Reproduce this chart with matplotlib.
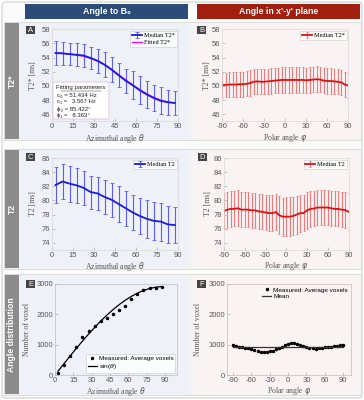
import matplotlib
matplotlib.use("Agg")
import matplotlib.pyplot as plt
from matplotlib.patches import Rectangle, FancyBboxPatch
from matplotlib.lines import Line2D

plt.rcParams["axes.unicode_minus"] = False

# ---------------- data ----------------
theta = [2.5, 7.5, 12.5, 17.5, 22.5, 27.5, 32.5, 37.5, 42.5, 47.5, 52.5, 57.5,
         62.5, 67.5, 72.5, 77.5, 82.5, 87.5]
phi = [-90, -85, -80, -75, -70, -65, -60, -55, -50, -45, -40, -35, -30, -25, -20,
       -15, -10, -5, 0, 5, 10, 15, 20, 25, 30, 35, 40, 45, 50, 55, 60, 65, 70, 75,
       80, 85, 90]

t2s_theta = [54.65, 54.6, 54.5, 54.4, 54.3, 53.95, 53.55, 53.0, 52.3, 51.5, 50.75,
             50.1, 49.4, 48.8, 48.3, 47.9, 47.7, 47.6]
t2s_theta_err = [1.65, 1.6, 1.6, 1.6, 1.6, 1.55, 1.7, 1.8, 1.75, 1.7, 1.7, 1.95,
                 2.0, 1.95, 1.8, 1.9, 1.8, 1.75]
t2s_fit = [54.65, 54.6, 54.5, 54.35, 54.2, 53.9, 53.5, 53.0, 52.35, 51.6, 50.85,
           50.15, 49.5, 48.9, 48.4, 48.0, 47.75, 47.6]

t2s_phi = [50.1, 50.15, 50.2, 50.2, 50.2, 50.25, 50.25, 50.3, 50.4, 50.6, 50.65,
           50.6, 50.6, 50.65, 50.7, 50.75, 50.8, 50.85, 50.85, 50.85, 50.85, 50.85,
           50.85, 50.85, 50.8, 50.85, 50.9, 50.95, 50.9, 50.75, 50.7, 50.7, 50.65,
           50.6, 50.5, 50.2, 50.05]
t2s_phi_err = [1.75, 1.75, 1.75, 1.75, 1.75, 1.75, 1.75, 1.75, 1.8, 1.8, 1.8, 1.8,
               1.8, 1.8, 1.8, 1.8, 1.8, 1.8, 1.8, 1.8, 1.8, 1.8, 1.8, 1.8, 1.8,
               1.8, 1.8, 1.8, 1.8, 1.8, 1.8, 1.8, 1.8, 1.8, 1.8, 1.8, 1.75]

t2_theta = [82.2, 82.7, 82.4, 82.15, 81.8, 81.2, 81.0, 80.5, 80.1, 79.5, 78.9,
            78.3, 77.8, 77.4, 77.1, 77.0, 76.6, 76.5]
t2_theta_err = [2.6, 2.55, 2.55, 2.45, 2.45, 2.35, 2.4, 2.45, 2.45, 2.5, 2.5, 2.55,
                2.6, 2.7, 2.7, 2.7, 2.65, 2.6]

t2_phi = [78.5, 78.7, 78.8, 78.8, 78.9, 78.7, 78.7, 78.7, 78.6, 78.6, 78.45, 78.4,
          78.3, 78.2, 78.2, 78.35, 77.9, 77.7, 77.7, 77.7, 77.8, 78.0, 78.2, 78.2,
          78.6, 78.8, 78.85, 79.0, 79.0, 79.0, 79.0, 78.9, 78.8, 78.8, 78.7, 78.65,
          78.4]
t2_phi_err = [2.55, 2.55, 2.55, 2.5, 2.55, 2.5, 2.5, 2.45, 2.45, 2.45, 2.5, 2.5,
              2.55, 2.55, 2.6, 2.6, 2.7, 2.7, 2.75, 2.75, 2.7, 2.7, 2.65, 2.6, 2.6,
              2.55, 2.5, 2.5, 2.5, 2.5, 2.5, 2.5, 2.5, 2.5, 2.5, 2.55, 2.6]

count_theta = [80, 330, 640, 935, 1250, 1450, 1630, 1780, 1890, 2000, 2130, 2280,
               2500, 2660, 2790, 2860, 2880, 2915]
sin_curve = [127, 381, 632, 878, 1117, 1348, 1569, 1778, 1973, 2153, 2317, 2463,
             2590, 2698, 2785, 2851, 2895, 2917]

count_phi = [990, 945, 935, 920, 900, 880, 845, 820, 790, 765, 745, 755, 780, 800,
             845, 890, 935, 1000, 1035, 1055, 1045, 1010, 980, 945, 920, 900, 890,
             865, 880, 900, 910, 920, 935, 955, 965, 980, 1000]
count_phi_mean = 910

theta_ticks = [0, 15, 30, 45, 60, 75, 90]
phi_ticks = [-90, -60, -30, 0, 30, 60, 90]
t2s_ticks = [46, 48, 50, 52, 54, 56, 58]
t2_ticks = [74, 76, 78, 80, 82, 84, 86]
count_ticks = [0, 1000, 2000, 3000]

# ---------------- layout ----------------
W, H = 364, 400
fig = plt.figure(figsize=(W / 100, H / 100), dpi=100)
fig.patch.set_facecolor("white")

SERIF = ["Liberation Serif", "DejaVu Serif"]
SANS = ["Liberation Sans", "DejaVu Sans"]


def fbox(x0, y0, x1, y1):
    return [x0 / W, 1 - y1 / H, (x1 - x0) / W, (y1 - y0) / H]


def frect(x0, y0, x1, y1, zorder=-10, **kw):
    r = Rectangle((x0 / W, 1 - y1 / H), (x1 - x0) / W, (y1 - y0) / H,
                  transform=fig.transFigure, zorder=zorder, **kw)
    fig.patches.append(r)
    return r


def ftext(x, y, s, **kw):
    return fig.text(x / W, 1 - y / H, s, **kw)


# outer frame
outer = FancyBboxPatch((2 / W, 2 / H), 360 / W, 396 / H,
                       boxstyle="round,pad=0,rounding_size=0.01",
                       transform=fig.transFigure, facecolor="#fbfbfb",
                       edgecolor="#d0d0d0", lw=0.8, zorder=-20)
fig.patches.append(outer)

rows = [(22, 140), (149, 269), (274, 395)]
row_labels = ["T2*", "T2", "Angle distribution"]
for (y0, y1), lab in zip(rows, row_labels):
    frect(4, y0, 361, y1, facecolor="#f3f3f3", edgecolor="#d8d8d8", lw=0.6)
    frect(5, y0 + 1, 19, y1 - 1, facecolor="#8b8b8b", edgecolor="none")
    frect(20, y0 + 1, 189, y1 - 1, facecolor="#eef1f7", edgecolor="none")
    frect(193, y0 + 1, 360, y1 - 1, facecolor="#f9f4f3", edgecolor="none")
    ftext(12, (y0 + y1) / 2, lab, rotation=90, ha="center", va="center",
          color="white", fontsize=6.2, fontweight="bold", family=SANS)

# headers
frect(25, 4, 188, 19, facecolor="#2d4b78", edgecolor="none")
frect(197, 4, 360, 19, facecolor="#a11f0e", edgecolor="none")
ftext(106.5, 11.5, "Angle to B\u2080", ha="center", va="center", color="white",
      fontsize=6.3, fontweight="bold", family=SANS)
ftext(278.5, 11.5, "Angle in x'-y' plane", ha="center", va="center",
      color="white", fontsize=6.3, fontweight="bold", family=SANS)

TICKC = "#555555"
SPINEC = "#d8d8d8"


def style_axes(ax, spinec=SPINEC):
    ax.set_facecolor("none")
    for s in ax.spines.values():
        s.set_color(spinec)
        s.set_linewidth(0.5)
    ax.tick_params(direction="in", length=2, width=0.4, color="#999999",
                   labelsize=5.5, labelcolor=TICKC, pad=1.5, top=False, right=False)
    for lab in ax.get_xticklabels() + ax.get_yticklabels():
        lab.set_family(SANS)


def letter(x, y, s):
    frect(x, y, x + 9, y + 8, zorder=5, facecolor="#444444", edgecolor="none")
    ftext(x + 4.5, y + 4.2, s, ha="center", va="center", color="white",
          fontsize=5.5, family=SANS, zorder=6)


def style_legend(lg, frame=True):
    if frame:
        lg.get_frame().set_edgecolor("#bbbbbb")
        lg.get_frame().set_linewidth(0.4)


BLUE = "#1a1ae6"
BLUE_E = "#5b5bff"
RED = "#e01010"
RED_E = "#f07a7a"
EB = dict(elinewidth=0.8, capthick=0.6, lw=1.3)
LEGKW = dict(frameon=True, fancybox=False, handlelength=1.6, borderpad=0.3,
             labelspacing=0.2, handletextpad=0.3, borderaxespad=0.25)

# ---- A ----
axA = fig.add_axes(fbox(52, 29.3, 178.3, 121.4))
hA1 = axA.errorbar(theta, t2s_theta, yerr=t2s_theta_err, color=BLUE, ecolor=BLUE_E,
                   capsize=1.2, label="Median T2*", **EB)
hA2, = axA.plot(theta, t2s_fit, color="#ff00ff", lw=0.9, label="Fitted T2*")
axA.set_xlim(0, 90)
axA.set_ylim(45, 58)
axA.set_xticks(theta_ticks)
axA.set_yticks(t2s_ticks)
axA.set_xlabel("Azimuthal angle $\\theta$", family=SERIF, fontsize=5.6,
               color=TICKC, labelpad=1)
axA.set_ylabel("T2* [ms]", family=SERIF, fontsize=5.6, color=TICKC)
axA.yaxis.set_label_coords(-0.115, 0.5)
style_axes(axA)
style_legend(axA.legend(handles=[hA1, hA2], loc="upper right",
                        prop={"family": SERIF, "size": 4.5}, **LEGKW))

# fitting parameter box
fp = FancyBboxPatch((53 / W, 1 - 119 / H), 56 / W, 37 / H,
                    boxstyle="round,pad=0,rounding_size=0.004",
                    transform=fig.transFigure, facecolor="white",
                    edgecolor="#e2bfd8", lw=0.6, zorder=5)
fig.patches.append(fp)
ftext(81, 87.5, "Fitting parameters", ha="center", va="center", fontsize=4.4,
      family=SANS, color="#222222", zorder=6)
fig.lines.append(Line2D([61 / W, 101 / W], [1 - 90.8 / H, 1 - 90.8 / H],
                        transform=fig.transFigure, color="#222222", lw=0.3,
                        zorder=6))
for i, s in enumerate(["c\u2080 = 51.434 Hz", "c\u2081 =   3.567 Hz",
                       "\u03d5\u2080 = 85.422\u00b0", "\u03d5\u2081 =   8.363\u00b0"]):
    ftext(57, 95 + 7 * i, s, ha="left", va="center", fontsize=4.3,
          family=SANS, color="#222222", zorder=6)

# ---- B ----
axB = fig.add_axes(fbox(222, 29.3, 348.3, 121.4))
axB.errorbar(phi, t2s_phi, yerr=t2s_phi_err, color=RED, ecolor=RED_E,
             capsize=1.0, label="Median T2*", **EB)
axB.set_xlim(-90, 90)
axB.set_ylim(45, 58)
axB.set_xticks(phi_ticks)
axB.set_yticks(t2s_ticks)
axB.set_xlabel("Polar angle $\\varphi$", family=SERIF, fontsize=5.6,
               color=TICKC, labelpad=1)
axB.set_ylabel("T2* [ms]", family=SERIF, fontsize=5.6, color=TICKC)
axB.yaxis.set_label_coords(-0.085, 0.5)
style_axes(axB)
style_legend(axB.legend(loc="upper right", prop={"family": SERIF, "size": 4.5},
                        **LEGKW))

# ---- C ----
axC = fig.add_axes(fbox(52, 158.3, 178.3, 249.7))
axC.errorbar(theta, t2_theta, yerr=t2_theta_err, color=BLUE, ecolor=BLUE_E,
             capsize=1.2, label="Median T2", **EB)
axC.set_xlim(0, 90)
axC.set_ylim(73, 86)
axC.set_xticks(theta_ticks)
axC.set_yticks(t2_ticks)
axC.set_xlabel("Azimuthal angle $\\theta$", family=SERIF, fontsize=5.6,
               color=TICKC, labelpad=1)
axC.set_ylabel("T2 [ms]", family=SERIF, fontsize=5.6, color=TICKC)
axC.yaxis.set_label_coords(-0.115, 0.5)
style_axes(axC)
style_legend(axC.legend(loc="upper right", prop={"family": SERIF, "size": 4.5},
                        **LEGKW))

# ---- D ----
axD = fig.add_axes(fbox(224, 158.3, 348.5, 249.7))
axD.errorbar(phi, t2_phi, yerr=t2_phi_err, color=RED, ecolor=RED_E,
             capsize=1.0, label="Median T2", **EB)
axD.set_xlim(-90, 90)
axD.set_ylim(73, 86)
axD.set_xticks(phi_ticks)
axD.set_yticks(t2_ticks)
axD.set_xlabel("Polar angle $\\varphi$", family=SERIF, fontsize=5.6,
               color=TICKC, labelpad=1)
axD.set_ylabel("T2 [ms]", family=SERIF, fontsize=5.6, color=TICKC)
axD.yaxis.set_label_coords(-0.1, 0.5)
style_axes(axD)
style_legend(axD.legend(loc="upper right", prop={"family": SERIF, "size": 4.5},
                        **LEGKW))

# ---- E ----
axE = fig.add_axes(fbox(55, 284, 177, 375))
axE.plot(theta, count_theta, ls="none", marker="o", ms=1.5, color="black",
         label="Measured: Average voxels")
axE.plot(theta, sin_curve, color="black", lw=0.9, label="sin($\\theta$)")
axE.set_xlim(0, 100)
axE.set_ylim(0, 3000)
axE.set_xticks(theta_ticks)
axE.set_yticks(count_ticks)
axE.set_xlabel("Azimuthal angle $\\theta$", family=SERIF, fontsize=5.6,
               color=TICKC, labelpad=1)
axE.set_ylabel("Number of voxel", family=SERIF, fontsize=5.6, color=TICKC)
axE.yaxis.set_label_coords(-0.2, 0.5)
style_axes(axE, "#bdbdbd")
style_legend(axE.legend(loc="lower right", prop={"family": SANS, "size": 4.6},
                        **dict(LEGKW, handlelength=1.4)))

# ---- F ----
axF = fig.add_axes(fbox(227, 284, 351, 375))
axF.plot(phi, count_phi, ls="none", marker="o", ms=1.5, color="black",
         label="Measured: Average voxels")
axF.plot([phi[0], phi[-1]], [count_phi_mean, count_phi_mean], color="#333333",
         lw=0.9, label="Mean")
axF.set_xlim(-100, 103)
axF.set_ylim(0, 3000)
axF.set_xticks(phi_ticks)
axF.set_yticks(count_ticks)
axF.set_xlabel("Polar angle $\\varphi$", family=SERIF, fontsize=5.6,
               color=TICKC, labelpad=1)
axF.set_ylabel("Number of voxel", family=SERIF, fontsize=5.6, color=TICKC)
axF.yaxis.set_label_coords(-0.2, 0.5)
style_axes(axF, "#bdbdbd")
axF.legend(loc="upper right", prop={"family": SANS, "size": 4.6},
           frameon=False, handlelength=1.4, borderpad=0.3,
           labelspacing=0.2, handletextpad=0.3, borderaxespad=0.2)

for (x, y, s) in [(26, 26, "A"), (197, 26, "B"), (26, 153, "C"), (198, 153, "D"),
                  (26, 280, "E"), (197, 280, "F")]:
    letter(x, y, s)

fig.savefig("out.png", dpi=100, facecolor=fig.get_facecolor())
